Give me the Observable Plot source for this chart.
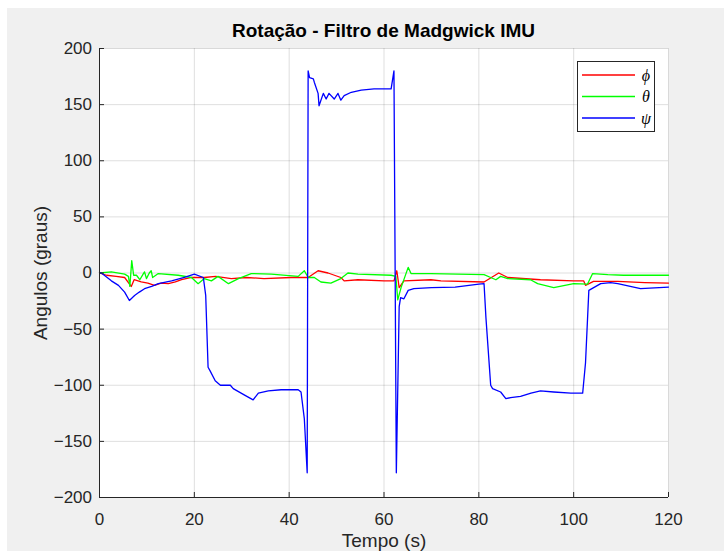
<!DOCTYPE html>
<html>
<head>
<meta charset="utf-8">
<script src="https://cdn.jsdelivr.net/npm/d3@7"></script>
<script src="https://cdn.jsdelivr.net/npm/@observablehq/plot@0.6"></script>
<style>
  html, body { margin: 0; padding: 0; background: #ffffff; }
  #wrap { position: relative; width: 724px; height: 551px; overflow: hidden; font-family: "Liberation Sans", Arial, sans-serif; }
  #bg { position: absolute; left: 7px; top: 8px; width: 717px; height: 543px; background: #f0f0f0; }
  #title { position: absolute; left: 99px; top: 0; width: 569px; height: 36px; box-sizing: border-box; padding-top: 21px;
           text-align: center; font-weight: bold; font-size: 19px; line-height: 19px; color: #000; white-space: nowrap; }
  #chart { position: absolute; left: 0; top: 36px; }
  #legend { position: absolute; left: 577px; top: 61px; }
</style>
</head>
<body>
<div id="wrap">
  <div id="bg"></div>
  <div id="title"></div>
  <div id="chart"></div>
  <div id="legend"></div>
</div>
<script>
const titleText = "Rotação - Filtro de Madgwick IMU";
const xLabel = "Tempo (s)";
const yLabel = "Angulos (graus)";
const xTicks = [0, 20, 40, 60, 80, 100, 120];
const yTicks = [-200, -150, -100, -50, 0, 50, 100, 150, 200];
const seriesNames = ["\u03D5", "\u03B8", "\u03C8"];
const seriesColors = ["#ff0000", "#00ff00", "#0000ff"];

// [tempo (s), ângulo (graus)]
const phi = [[0,0],[1.5,-2],[3.5,-3],[5.3,-4],[6.1,-8.5],[6.7,-12],[7.3,-6],[8.8,-8],[10.2,-9],[11.6,-11],[13,-9],[14.5,-9.5],
  [16,-8],[17.3,-6],[19.4,-4],[22.1,-4],[24.5,-3],[27.8,-5],[31,-4],[34.7,-5],[40.4,-4],[44,-4],[46.1,2],[48.2,0],[50.9,-4],
  [51.6,-7],[54.5,-6],[60,-7],[62.1,-7],[62.7,2],[63.2,-13],[64.2,-7],[69.9,-6],[72,-7],[81.1,-8],[84.2,0],[86.1,-4],[93,-6],
  [100,-7],[102.1,-7],[102.5,-11],[104.2,-7.5],[109.3,-7.5],[115,-8.5],[120,-9]];
const theta = [[0,0],[2.5,1],[5.3,-1],[6.1,-3],[6.4,-12],[6.8,11],[7.2,-2],[7.8,-2],[8.5,-6],[9.2,-1],[9.5,1],[9.9,-5],
  [10.5,0],[10.9,2],[11.2,-4],[12.4,-0.5],[16.6,-2],[19.4,-4],[20.8,-9.5],[22.1,-5],[23.6,-7],[25,-3],[27.2,-9.5],[29.3,-5],
  [32,-0.5],[36.2,-1],[41.9,-3],[43.2,2],[44,-4],[45.3,-4],[46.7,-8],[48.8,-9],[50.9,-5],[52.4,0],[54.5,-1],[61.5,-2],
  [62.5,-3],[62.9,-24],[63.6,-13],[65.1,5],[65.7,-0.5],[69.9,-0.5],[81.1,-1.5],[82.5,-4],[83.6,-6],[84.6,-3],[86.1,-5],
  [90.9,-6],[92.4,-9.5],[95.8,-13],[100,-9.5],[102.9,-10],[104,-0.5],[107.2,-1.5],[110.5,-2],[120,-2]];
const psi = [[0,0],[0.4,0],[2.5,-7],[4,-11],[5.3,-17],[6.3,-24.5],[7.4,-20],[8.4,-17],[9.5,-14],[11,-12],[12.4,-9.5],[15.2,-7],
  [17.9,-4],[20,-1],[21.9,-4],[22.4,-20],[22.9,-84],[23.3,-87],[24.4,-96],[25.5,-100],[27.6,-100],[28.2,-103],[30.7,-109],
  [32.4,-113],[33.5,-107],[35.6,-105],[38.3,-104],[41.9,-104],[42.5,-106],[43.2,-130],[43.8,-178],[44.0,180],[44.3,174],
  [45.1,173],[45.3,170],[46.1,160],[46.3,149],[47.2,160],[47.8,155],[48.4,160],[49.5,155],[50.3,160],[50.9,154],[51.6,158],
  [53.1,161],[55.2,163],[57.9,164],[61.5,164],[62.1,180],[62.6,-178],[63.2,-30],[63.5,-22],[64.2,-23],[65.1,-15.5],[66.3,-14],
  [70,-13],[75,-12.5],[80,-10],[81.1,-9.5],[81.5,-40],[82.5,-100],[82.9,-103],[84.6,-106],[85.7,-112],[86.7,-111],[88.8,-110],
  [91,-107],[93,-105],[95.8,-106],[99.4,-107],[101.9,-107],[102.5,-80],[103.2,-15.5],[105.7,-9.5],[107.8,-8.5],[109.3,-9.5],
  [114.1,-14],[120,-12.5]];
const seriesData = [phi, theta, psi];

document.getElementById("title").textContent = titleText;

const axisColor = "#262626";
const lineMarks = seriesData.map((data, i) =>
  Plot.line(data, {x: d => d[0], y: d => d[1], stroke: seriesColors[i], strokeWidth: 1.3}));

const chart = Plot.plot({
  width: 724, height: 515,
  marginLeft: 99, marginRight: 56, marginTop: 12, marginBottom: 54,
  style: {background: "transparent", fontFamily: "'Liberation Sans', Arial, sans-serif", fontSize: "17px", color: axisColor, overflow: "visible"},
  x: {domain: [0, 120]},
  y: {domain: [-200, 200]},
  marks: [
    Plot.frame({fill: "white", stroke: null}),
    Plot.gridX(xTicks, {stroke: axisColor, strokeOpacity: 0.15, strokeWidth: 1}),
    Plot.gridY(yTicks, {stroke: axisColor, strokeOpacity: 0.15, strokeWidth: 1}),
    ...lineMarks,
    Plot.ruleX([0], {stroke: axisColor}),
    Plot.ruleY([-200], {stroke: axisColor}),
    Plot.axisX(xTicks, {tickSize: -5, tickPadding: 20, label: null, stroke: axisColor, fill: axisColor, fontSize: 17}),
    Plot.axisY(yTicks, {tickSize: -5, tickPadding: 12.5, label: null, stroke: axisColor, fill: axisColor, fontSize: 17}),
    Plot.text([xLabel], {frameAnchor: "bottom", dy: 36, lineAnchor: "top", fontSize: 19, fill: axisColor}),
    Plot.text([yLabel], {frameAnchor: "left", dx: -59, rotate: -90, lineAnchor: "middle", textAnchor: "middle", fontSize: 19, fill: axisColor})
  ]
});
document.getElementById("chart").append(chart);

// legend
const lw = 77, lh = 70;
const lsvg = d3.select("#legend").append("svg").attr("width", lw + 1).attr("height", lh + 1);
lsvg.append("rect").attr("x", 0.5).attr("y", 0.5).attr("width", lw).attr("height", lh)
  .attr("fill", "white").attr("stroke", axisColor).attr("stroke-width", 1);
const rowY = d3.scalePoint().domain(seriesNames).range([14, 57]);
seriesNames.forEach((name, i) => {
  const y = rowY(name);
  lsvg.append("line").attr("x1", 5).attr("x2", 58).attr("y1", y).attr("y2", y)
    .attr("stroke", seriesColors[i]).attr("stroke-width", 1.3);
  lsvg.append("text").attr("x", 69).attr("y", y).attr("dy", "0.35em").attr("text-anchor", "middle")
    .attr("font-family", "'Liberation Serif', 'DejaVu Serif', serif").attr("font-style", "italic")
    .attr("font-size", 16).attr("fill", "#000").text(name);
});
</script>
</body>
</html>
